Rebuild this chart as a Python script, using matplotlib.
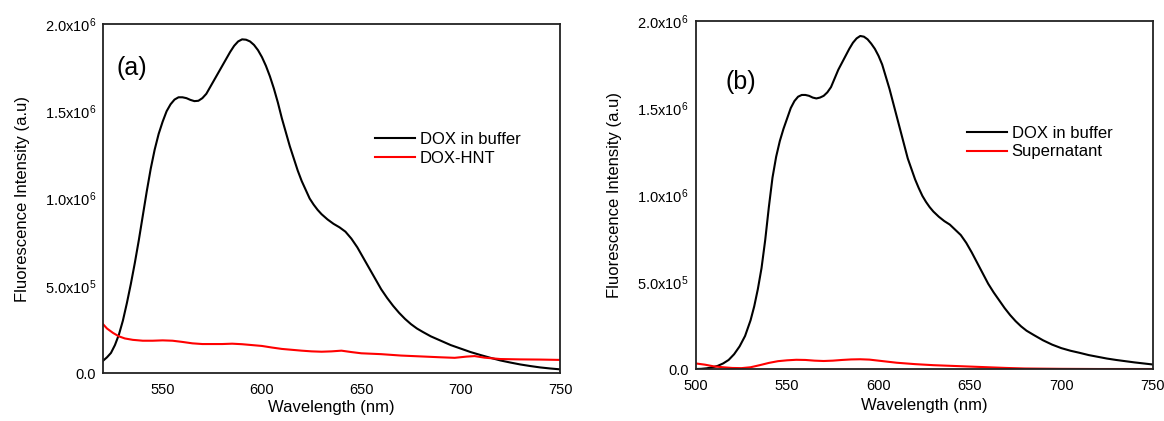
import matplotlib
matplotlib.use("Agg")
from matplotlib import pyplot as plt

plt.rcParams['font.family'] = ['Liberation Sans', 'DejaVu Sans']
plt.rcParams['mathtext.fontset'] = 'custom'
plt.rcParams['mathtext.rm'] = 'Liberation Sans'
plt.rcParams['mathtext.it'] = 'Liberation Sans'

# panel (a): free DOX vs DOX loaded in halloysite
wl_a_dox = [520, 522, 524, 526, 528, 530, 532, 534, 536, 538, 540, 542, 544, 546,
            548, 550, 552, 554, 556, 558, 560, 562, 564, 566, 568, 570, 572, 574,
            576, 578, 580, 582, 584, 586, 588, 590, 592, 594, 596, 598, 600, 602,
            604, 606, 608, 610, 612, 614, 616, 618, 620, 622, 624, 626, 628, 630,
            633, 636, 639, 642, 645, 648, 651, 654, 657, 660, 663, 666, 669, 672,
            675, 678, 681, 685, 690, 695, 700, 705, 710, 715, 720, 725, 730, 735,
            740, 745, 750]
int_a_dox = [0.07, 0.09, 0.115, 0.16, 0.22, 0.30, 0.40, 0.51, 0.63, 0.76, 0.90,
             1.04, 1.17, 1.28, 1.37, 1.44, 1.50, 1.54, 1.567, 1.58, 1.58, 1.575,
             1.565, 1.558, 1.56, 1.575, 1.60, 1.64, 1.68, 1.72, 1.76, 1.80, 1.84,
             1.875, 1.90, 1.912, 1.91, 1.90, 1.88, 1.85, 1.81, 1.76, 1.70, 1.63,
             1.55, 1.46, 1.38, 1.30, 1.23, 1.16, 1.10, 1.05, 1.00, 0.965, 0.935,
             0.91, 0.88, 0.855, 0.835, 0.81, 0.77, 0.72, 0.66, 0.60, 0.54, 0.48,
             0.43, 0.385, 0.345, 0.31, 0.28, 0.255, 0.235, 0.21, 0.185, 0.16, 0.14,
             0.12, 0.103, 0.087, 0.072, 0.06, 0.049, 0.04, 0.032, 0.026, 0.021]

wl_a_hnt = [520, 522, 525, 528, 531, 535, 540, 545, 550, 555, 560, 565, 570, 580,
            585, 590, 595, 600, 605, 610, 615, 620, 625, 630, 635, 640, 645, 650,
            660, 670, 680, 690, 697, 703, 707, 712, 720, 730, 740, 750]
int_a_hnt = [0.28, 0.255, 0.23, 0.21, 0.198, 0.19, 0.185, 0.185, 0.187, 0.185, 0.178,
             0.17, 0.166, 0.166, 0.168, 0.165, 0.16, 0.155, 0.146, 0.138, 0.133,
             0.128, 0.124, 0.122, 0.124, 0.128, 0.12, 0.113, 0.108, 0.10, 0.095,
             0.09, 0.087, 0.094, 0.097, 0.088, 0.08, 0.078, 0.077, 0.075]

# panel (b): free DOX vs supernatant after loading
wl_b_dox = [500, 503, 506, 509, 512, 515, 518, 521, 524, 527, 530, 532, 534, 536,
            538, 540, 542, 544, 546, 548, 550, 552, 554, 556, 558, 560, 562, 564,
            566, 568, 570, 572, 574, 576, 578, 580, 582, 584, 586, 588, 590, 592,
            594, 596, 598, 600, 602, 604, 606, 608, 610, 612, 614, 616, 618, 620,
            622, 624, 626, 628, 630, 633, 636, 639, 642, 645, 648, 651, 654, 657,
            660, 663, 666, 669, 672, 675, 678, 681, 685, 690, 695, 700, 705, 710,
            715, 720, 725, 730, 735, 740, 745, 750]
int_b_dox = [0.0, 0.001, 0.004, 0.009, 0.018, 0.032, 0.052, 0.085, 0.13, 0.19, 0.28,
             0.36, 0.46, 0.58, 0.74, 0.93, 1.10, 1.22, 1.31, 1.38, 1.44, 1.50, 1.54,
             1.565, 1.575, 1.575, 1.57, 1.56, 1.555, 1.56, 1.57, 1.59, 1.62, 1.67,
             1.72, 1.76, 1.80, 1.84, 1.875, 1.90, 1.914, 1.91, 1.895, 1.87, 1.84,
             1.80, 1.75, 1.68, 1.61, 1.53, 1.45, 1.37, 1.29, 1.21, 1.15, 1.09, 1.04,
             0.995, 0.96, 0.93, 0.905, 0.875, 0.85, 0.83, 0.80, 0.77, 0.725, 0.67,
             0.61, 0.55, 0.49, 0.44, 0.395, 0.35, 0.31, 0.275, 0.245, 0.22, 0.195,
             0.165, 0.14, 0.12, 0.105, 0.093, 0.08, 0.07, 0.06, 0.052, 0.045, 0.038,
             0.032, 0.026]

wl_b_sup = [500, 505, 510, 515, 520, 525, 530, 535, 540, 545, 550, 555, 560, 565,
            570, 575, 580, 585, 590, 595, 600, 605, 610, 620, 630, 640, 650, 660,
            670, 680, 690, 700, 720, 750]
int_b_sup = [0.032, 0.025, 0.015, 0.01, 0.006, 0.005, 0.01, 0.022, 0.035, 0.045,
             0.05, 0.053, 0.052, 0.048, 0.046, 0.048, 0.052, 0.055, 0.056, 0.054,
             0.048, 0.042, 0.036, 0.028, 0.022, 0.018, 0.014, 0.01, 0.006, 0.003,
             0.002, 0.001, 0.0, 0.0]

yticks = [0, 0.5e6, 1.0e6, 1.5e6, 2.0e6]
ytick_labels = ['0.0', r'5.0x10$^{5}$', r'1.0x10$^{6}$', r'1.5x10$^{6}$', r'2.0x10$^{6}$']

fig = plt.figure(figsize=(11.64, 4.21), dpi=100)
ax1 = fig.add_axes([0.0885, 0.114, 0.3926, 0.829])
ax2 = fig.add_axes([0.5977, 0.1235, 0.3926, 0.8266])


def style(ax, xlim, xticks, ylab_x, xlab_y):
    ax.set_xlim(*xlim)
    ax.set_ylim(0, 2.0e6)
    ax.set_xticks(xticks)
    ax.set_yticks(yticks)
    ax.set_yticklabels(ytick_labels)
    ax.tick_params(length=0, labelsize=10.5, pad=5)
    ax.tick_params(axis='x', pad=7)
    for s in ax.spines.values():
        s.set_linewidth(1.3)
        s.set_color('#222222')
    ax.set_xlabel('Wavelength (nm)', fontsize=12, va='top')
    ax.set_ylabel('Fluorescence Intensity (a.u)', fontsize=12)
    ax.yaxis.set_label_coords(ylab_x, 0.5)
    ax.xaxis.set_label_coords(0.5, xlab_y)


ax1.plot(wl_a_dox, [v * 1e6 for v in int_a_dox], color='black', lw=1.5,
         label='DOX in buffer')
ax1.plot(wl_a_hnt, [v * 1e6 for v in int_a_hnt], color='red', lw=1.5, label='DOX-HNT')
style(ax1, (520, 750), [550, 600, 650, 700, 750], -0.16, -0.077)
ax1.text(0.03, 0.875, '(a)', transform=ax1.transAxes, fontsize=18, va='center')
ax1.legend(loc='upper left', bbox_to_anchor=(0.595, 0.69), frameon=False,
           fontsize=12, handlelength=2.4, handletextpad=0.3, borderpad=0,
           labelspacing=0.2, borderaxespad=0)

ax2.plot(wl_b_dox, [v * 1e6 for v in int_b_dox], color='black', lw=1.5,
         label='DOX in buffer')
ax2.plot(wl_b_sup, [v * 1e6 for v in int_b_sup], color='red', lw=1.5, label='Supernatant')
style(ax2, (500, 750), [500, 550, 600, 650, 700, 750], -0.161, -0.083)
ax2.text(0.065, 0.825, '(b)', transform=ax2.transAxes, fontsize=18, va='center')
ax2.legend(loc='upper left', bbox_to_anchor=(0.593, 0.698), frameon=False,
           fontsize=12, handlelength=2.4, handletextpad=0.3, borderpad=0,
           labelspacing=0.2, borderaxespad=0)

fig.savefig('out.png', dpi=100)
